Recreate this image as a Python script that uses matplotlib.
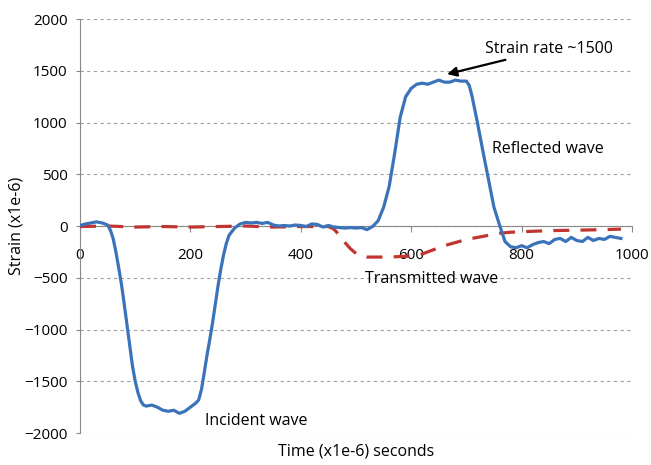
import matplotlib
matplotlib.use("Agg")
import matplotlib.pyplot as plt

plt.rcParams['font.family'] = ['Open Sans', 'DejaVu Sans']

# Blue solid: incident + reflected waves
blue_t = [0, 10, 20, 30, 40, 50, 55, 60, 65, 70, 75, 80, 85, 90, 95, 100, 105, 110, 115, 120,
          130, 140, 150, 160, 170, 180, 190, 200, 210, 215, 220, 225, 230, 235, 240, 245, 250,
          255, 260, 265, 270, 280, 290, 300, 310, 320, 330, 340, 350, 360, 370, 380, 390, 400,
          410, 420, 430, 440, 450, 460, 470, 480, 490, 500, 510, 520, 530, 540, 550, 560, 570,
          580, 590, 600, 610, 620, 630, 640, 650, 660, 670, 680, 690, 700, 705, 710, 720, 730,
          740, 750, 760, 770, 780, 790, 800, 810, 820, 830, 840, 850, 860, 870, 880, 890, 900,
          910, 920, 930, 940, 950, 960, 970, 980]
blue_v = [5, 20, 30, 40, 30, 10, -40, -120, -250, -400, -560, -750, -950, -1150, -1350, -1500,
          -1610, -1690, -1730, -1740, -1730, -1750, -1780, -1790, -1780, -1810, -1790, -1750,
          -1710, -1680, -1580, -1420, -1250, -1100, -940, -760, -580, -420, -280, -170, -90,
          -20, 20, 35, 30, 35, 25, 35, 10, 0, 5, 0, 10, 5, -5, 20, 15, -10, 5, -10, -15, -20,
          -15, -20, -15, -35, -5, 50, 180, 380, 700, 1050, 1250, 1330, 1370, 1380, 1370, 1390,
          1410, 1390, 1390, 1410, 1400, 1400, 1360, 1260, 1000, 720, 450, 180, 10, -150, -200,
          -210, -190, -210, -180, -160, -150, -170, -130, -120, -150, -110, -140, -150, -110,
          -140, -120, -130, -100, -110, -120]

# Red dashed: transmitted wave
red_t = [0, 50, 100, 150, 200, 250, 300, 350, 400, 450, 460, 470, 480, 490, 500, 510, 520, 540,
         560, 580, 600, 620, 640, 660, 680, 700, 720, 740, 760, 780, 800, 850, 900, 950, 980]
red_v = [-5, 0, -10, -5, -10, -5, 0, -10, -5, -5, -30, -90, -160, -220, -265, -290, -300, -300,
         -300, -295, -290, -270, -230, -190, -160, -130, -110, -90, -70, -60, -55, -45, -40,
         -35, -30]

x_ticks = [0, 200, 400, 600, 800, 1000]
y_ticks = [-2000, -1500, -1000, -500, 0, 500, 1000, 1500, 2000]

fig = plt.figure(figsize=(6.51, 4.65), dpi=100)
ax = fig.add_axes([0.1229, 0.0688, 0.8479, 0.8903])

ax.plot(red_t, red_v, color='#c1342f', lw=2.3, dashes=(5, 3.5), zorder=3)
ax.plot(blue_t, blue_v, color='#3b73ba', lw=2.3, zorder=4)

ax.set_xlim(0, 1000)
ax.set_ylim(-2000, 2000)
ax.set_xticks(x_ticks)
ax.set_yticks(y_ticks)
ax.grid(axis='y', color='#a0a0a0', lw=0.8, linestyle=(0, (3, 3)))
ax.set_axisbelow(True)

for s in ['top', 'right']:
    ax.spines[s].set_visible(False)
ax.spines['bottom'].set_position(('data', 0))
ax.spines['bottom'].set_color('#888888')
ax.spines['left'].set_color('#888888')
ax.tick_params(axis='x', direction='out', length=4, color='#888888', pad=12, labelsize=11)
ax.tick_params(axis='y', direction='out', length=3, color='#888888', pad=6, labelsize=11)

ax.set_ylabel('Strain (x1e-6)', fontsize=11.5)
ax.yaxis.set_label_coords(-0.1, 0.5)
ax.set_xlabel('Time (x1e-6) seconds', fontsize=11.5)
ax.xaxis.set_label_coords(0.5, -0.025)

ax.annotate('Strain rate ~1500', xy=(665, 1467), xytext=(734, 1710), fontsize=11.5,
            va='center', ha='left',
            arrowprops=dict(arrowstyle='-|>', color='black', lw=1.6, mutation_scale=14,
                            shrinkA=0, shrinkB=0))
ax.text(746, 743, 'Reflected wave', fontsize=11.5, va='center', ha='left')
ax.text(516, -512, 'Transmitted wave', fontsize=11.5, va='center', ha='left')
ax.text(226, -1882, 'Incident wave', fontsize=11.5, va='center', ha='left')

fig.savefig('out.png', dpi=100)
